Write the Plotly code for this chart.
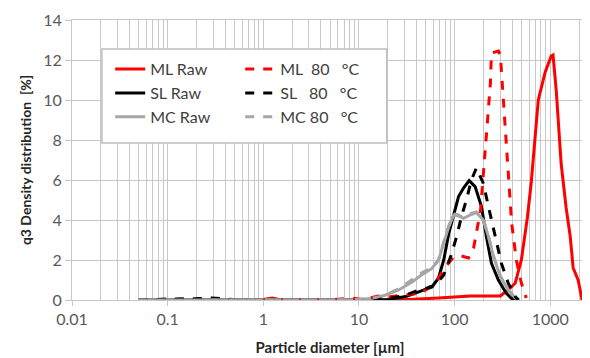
import plotly.graph_objects as go

# ---- data (particle diameter in µm, q3 in %) ----
ml_raw_d = [0.8, 1.0, 1.24, 1.5, 3, 10, 26, 68, 147, 301, 383, 431, 499, 576, 634, 750, 887, 1024, 1070, 1155, 1302, 1468, 1616, 1738, 1957, 2154]
ml_raw_q = [0, 0.03, 0.1, 0.02, 0, 0, 0, 0.1, 0.2, 0.2, 0.6, 0.85, 2.0, 4.1, 5.9, 10.0, 11.4, 12.2, 12.25, 10.5, 6.8, 4.6, 3.2, 1.6, 1.0, 0]

sl_raw_d = [0.05, 1, 10, 20, 31, 42, 58, 68, 77, 87, 98, 110, 124, 142, 164, 191, 215, 243, 287, 348, 393, 464]
sl_raw_q = [0, 0, 0, 0.02, 0.17, 0.4, 0.65, 1.1, 2.0, 3.33, 4.33, 5.17, 5.6, 5.97, 5.67, 4.67, 3.17, 1.83, 1.0, 0.33, 0.08, 0]

mc_raw_d = [0.05, 1, 10, 15, 19, 26, 36, 45, 58, 68, 77, 87, 98, 110, 124, 145, 169, 200, 226, 255, 301, 365, 431, 480]
mc_raw_q = [0, 0, 0.02, 0.1, 0.25, 0.5, 0.9, 1.25, 1.58, 2.0, 2.83, 3.67, 4.25, 4.2, 4.08, 4.25, 4.37, 4.0, 3.17, 2.17, 1.17, 0.5, 0.1, 0]

ml_80_d = [1, 5, 8.5, 11, 16, 20, 30, 45, 63, 80, 98, 118, 140, 158, 169, 187, 200, 221, 237, 243, 287, 301, 324, 348, 372, 395, 442, 499, 562]
ml_80_q = [0, 0, 0.1, 0.02, 0.2, 0.15, 0.25, 0.35, 0.85, 1.65, 2.15, 2.2, 2.1, 2.6, 3.35, 4.5, 6.3, 9.15, 10.85, 12.35, 12.45, 12.25, 10.0, 8.0, 6.0, 3.85, 2.0, 0.85, 0.1]

sl_80_d = [0.05, 0.07, 0.1, 0.2, 0.29, 0.4, 0.6, 1, 10, 16, 22, 31, 42, 52, 63, 77, 91, 105, 118, 133, 150, 169, 200, 226, 267, 309, 365, 431, 464]
sl_80_q = [0, 0.03, 0.05, 0.07, 0.1, 0.05, 0, 0, 0, 0.05, 0.1, 0.25, 0.5, 0.6, 0.75, 1.25, 2.17, 3.17, 4.17, 5.0, 6.0, 6.6, 5.83, 4.67, 3.17, 1.83, 0.83, 0.17, 0]

mc_80_d = [0.05, 1, 10, 15, 20, 26, 36, 45, 58, 68, 77, 87, 98, 110, 124, 145, 169, 200, 226, 255, 301, 365, 431, 480]
mc_80_q = [0, 0, 0.02, 0.12, 0.3, 0.55, 1.0, 1.35, 1.62, 2.0, 2.9, 3.7, 4.3, 4.25, 4.1, 4.3, 4.4, 4.0, 3.2, 2.2, 1.2, 0.5, 0.1, 0]

raw_names = ["ML Raw", "SL Raw", "MC Raw"]
heat_names = ["ML\u00a0\u00a080\u00a0\u00a0\u00a0°C", "SL\u00a0\u00a0\u00a080\u00a0\u00a0\u00a0°C", "MC\u00a080\u00a0\u00a0\u00a0°C"]
colors = ["#ff0000", "#000000", "#a6a6a6"]

x_major = [0.01, 0.1, 1, 10, 100, 1000]
x_major_text = ["0.01", "0.1", "1", "10", "100", "1000"]
x_minor = [m * 10 ** e for e in range(-2, 4) for m in range(2, 10)]
y_ticks = [0, 2, 4, 6, 8, 10, 12, 14]

FONT = "Lato, 'Open Sans', sans-serif"
GRID = "#c8c8c8"

fig = go.Figure()
raw = [(ml_raw_d, ml_raw_q), (sl_raw_d, sl_raw_q), (mc_raw_d, mc_raw_q)]
heat = [(ml_80_d, ml_80_q), (sl_80_d, sl_80_q), (mc_80_d, mc_80_q)]
for (d, q), name, c in zip(raw, raw_names, colors):
    fig.add_trace(go.Scatter(x=d, y=q, mode="lines", name=name, legend="legend",
                             line=dict(color=c, width=3)))
for (d, q), name, c in zip(heat, heat_names, colors):
    fig.add_trace(go.Scatter(x=d, y=q, mode="lines", name=name, legend="legend2",
                             line=dict(color=c, width=3, dash="dash")))

legend_common = dict(bgcolor="rgba(0,0,0,0)", borderwidth=0, orientation="v",
                     xanchor="left", yanchor="top",
                     font=dict(family=FONT, size=16, color="#404040"),
                     itemwidth=30, tracegroupgap=0)

fig.update_layout(
    width=582, height=350,
    margin=dict(l=64, r=2, t=12, b=58),
    paper_bgcolor="white", plot_bgcolor="white",
    font=dict(family=FONT, color="#595959"),
    xaxis=dict(type="log", range=[-2, 3.395],
               tickmode="array", tickvals=x_major, ticktext=x_major_text,
               ticks="outside", ticklen=5, tickcolor=GRID,
               showgrid=True, gridcolor=GRID, gridwidth=1,
               minor=dict(tickmode="array", tickvals=x_minor, showgrid=True,
                          gridcolor=GRID, gridwidth=1, ticks=""),
               showline=True, linecolor=GRID, linewidth=1, mirror=True,
               tickfont=dict(size=16, color="#595959"),
               title=dict(text="<b>Particle diameter [µm]</b>", standoff=15,
                          font=dict(size=15, color="#262626")),
               zeroline=False),
    yaxis=dict(range=[0, 14], tickmode="array", tickvals=y_ticks,
               ticks="outside", ticklen=6, tickcolor=GRID,
               showgrid=True, gridcolor=GRID, gridwidth=1,
               showline=True, linecolor=GRID, linewidth=1, mirror=True,
               tickfont=dict(size=16, color="#595959"),
               title=dict(text="<b>q3 Density distribution  [%]</b>", standoff=8,
                          font=dict(size=14, color="#262626")),
               zeroline=False),
    legend=dict(x=0.074, y=0.885, **legend_common),
    legend2=dict(x=0.326, y=0.885, **legend_common),
    shapes=[dict(type="rect", xref="paper", yref="paper",
                 x0=0.058, x1=0.610, y0=0.561, y1=0.896,
                 fillcolor="white", line=dict(color="#bfbfbf", width=1.5),
                 layer="above")],
)

fig.write_html("out.html")
